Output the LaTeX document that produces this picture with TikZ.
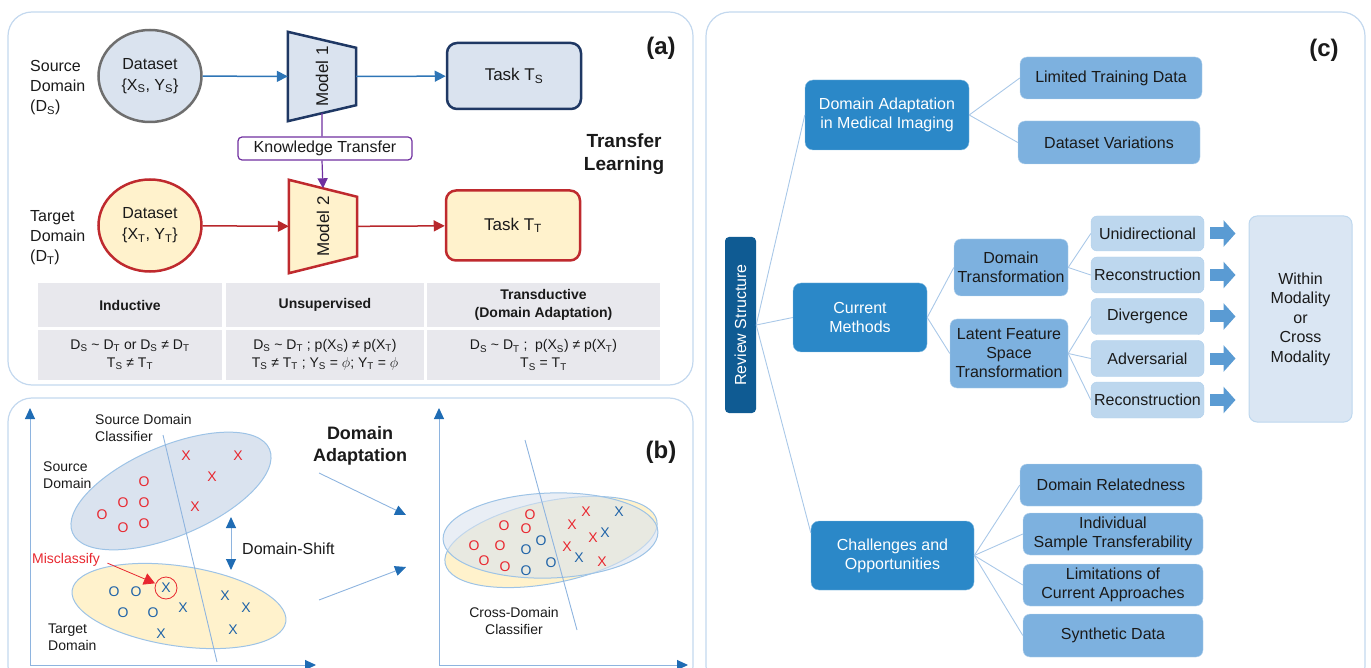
\documentclass[tikz,border=0pt]{standalone}
\usepackage{fontspec}
\setmainfont{Liberation Sans}
\usepackage{graphicx}
\usepackage{tikz}
\usetikzlibrary{shapes, arrows.meta, positioning, calc, backgrounds}

\definecolor{panelc}{HTML}{C3D8EE}
\definecolor{srcfill}{HTML}{DAE3EF}
\definecolor{tgtfill}{HTML}{FFF2CC}
\definecolor{navy}{HTML}{1F3864}
\definecolor{darkred}{HTML}{BF2A2E}
\definecolor{greyline}{HTML}{6E6E6E}
\definecolor{arrblue}{HTML}{2E75B6}
\definecolor{arrred}{HTML}{B8282C}
\definecolor{ktpurple}{HTML}{7030A0}
\definecolor{cellgray}{HTML}{E8E8ED}
\definecolor{txtc}{HTML}{1A1A1A}
\definecolor{ptred}{HTML}{E8272F}
\definecolor{ptblue}{HTML}{1F63A8}
\definecolor{axline}{HTML}{8EB4DF}
\definecolor{axtip}{HTML}{1F6CB4}
\definecolor{ellline}{HTML}{9DC3E6}
\definecolor{rsc}{HTML}{0F5B93}
\definecolor{lvonec}{HTML}{2B88C8}
\definecolor{lvtwoc}{HTML}{7DB1DF}
\definecolor{lvthreec}{HTML}{BDD7EE}
\definecolor{withinc}{HTML}{DAE6F3}
\definecolor{blkc}{HTML}{5A9BD3}
\definecolor{treec}{HTML}{A9C8E8}

\newcommand{\sbs}[2]{#1\textsubscript{#2}}

\begin{document}
\begin{tikzpicture}[x=1pt, y=-1pt,
  panel/.style={draw=panelc, line width=1.2pt, rounded corners=24pt},
  lab/.style={inner sep=0pt, align=left, text=txtc, font=\fontsize{16}{20}\selectfont},
  smlab/.style={inner sep=0pt, align=left, text=txtc, font=\fontsize{14}{17}\selectfont},
  boldlab/.style={inner sep=0pt, align=center, text=txtc, font=\bfseries\fontsize{19}{23}\selectfont},
  tag/.style={inner sep=0pt, text=txtc, font=\bfseries\fontsize{24}{28}\selectfont},
  dataset/.style={ellipse, minimum width=103pt, minimum height=92pt, inner sep=0pt,
                  line width=2.5pt, align=center, text=txtc, font=\fontsize{16}{21}\selectfont},
  model/.style={rectangle, minimum width=68pt, inner sep=0pt, text=txtc,
                font=\fontsize{17}{17}\selectfont},
  trap/.style={line width=2.5pt, line join=miter},
  task/.style={rectangle, rounded corners=10pt, minimum width=134pt, line width=2.5pt,
               text=txtc, font=\fontsize{17}{17}\selectfont},
  cell/.style={fill=cellgray, inner sep=0pt, align=center, text=txtc,
               font=\fontsize{14}{18}\selectfont},
  barrow/.style={draw=arrblue, line width=1.5pt, -{Triangle[length=11pt,width=11pt]}},
  rarrow/.style={draw=arrred, line width=1.5pt, -{Triangle[length=11pt,width=11pt]}},
  mk/.style={inner sep=0pt, font=\fontsize{14}{14}\selectfont},
  axis/.style={draw=axline, line width=1pt,
               {Triangle[length=11pt,width=10pt,color=axtip]}-{Triangle[length=11pt,width=10pt,color=axtip]}},
  thin/.style={draw=axline, line width=0.9pt},
  lvone/.style={rectangle, rounded corners=8pt, fill=lvonec, draw=lvonec!55!white,
                text=white, align=center, inner sep=2pt, font=\fontsize{16}{19}\selectfont},
  lvtwo/.style={rectangle, rounded corners=7pt, fill=lvtwoc, draw=lvtwoc!55!white,
                text=txtc, align=center, inner sep=2pt, font=\fontsize{16}{19}\selectfont},
  lvthree/.style={rectangle, rounded corners=6pt, fill=lvthreec, draw=lvtwoc!60!white,
                text=txtc, align=center, inner sep=2pt, font=\fontsize{16}{19}\selectfont},
  tree/.style={draw=treec, line width=0.9pt},
  blkarr/.style={draw=blkc, line width=12pt, -{Triangle[length=12pt,width=26pt]},
                 shorten <=6pt, shorten >=13pt}
]
\useasboundingbox (0,0) rectangle (1371,668);
\clip (0,0) rectangle (1371,668);

% ---------- (a) transfer learning
\draw[panel] (8,12) rectangle (693,385);

\node[lab, anchor=west] (srclab) at (30,88) {Source\\Domain\\(\sbs{D}{S})};
\node[lab, anchor=west] (tgtlab) at (30,238) {Target\\Domain\\(\sbs{D}{T})};

\node[dataset, fill=srcfill, draw=greyline] (srcdata) at (150,76) {Dataset\\\{\sbs{X}{S}, \sbs{Y}{S}\}};
\node[model, minimum height=89pt] (model1) at (322,76.5) {\rotatebox{90}{Model 1}};
\node[task, fill=srcfill, draw=navy, minimum height=66pt] (taskS) at (514,76) {Task \sbs{T}{S}};

\node[draw=ktpurple, line width=1.2pt, rounded corners=4pt, minimum width=174pt,
      minimum height=23pt, inner sep=0pt, text=txtc, font=\fontsize{16}{16}\selectfont]
      (ktrans) at (325,148.5) {Knowledge Transfer};

\node[dataset, fill=tgtfill, draw=darkred] (tgtdata) at (150,225.5) {Dataset\\\{\sbs{X}{T}, \sbs{Y}{T}\}};
\node[model, minimum height=93pt] (model2) at (323,226.5) {\rotatebox{90}{Model 2}};
\node[task, fill=tgtfill, draw=darkred, minimum height=70pt] (taskT) at (513,225.5) {Task \sbs{T}{T}};

\begin{scope}[on background layer]
\draw[trap, fill=srcfill, draw=navy] (model1.north west) -- ([yshift=-16pt]model1.north east)
  -- ([yshift=16pt]model1.south east) -- (model1.south west) -- cycle;
\draw[trap, fill=tgtfill, draw=darkred] (model2.north west) -- ([yshift=-17pt]model2.north east)
  -- ([yshift=17pt]model2.south east) -- (model2.south west) -- cycle;
\end{scope}

\node[tag] (taga) at (661,48) {(a)};
\node[boldlab] (tllab) at (624,154.5) {Transfer\\Learning};

\draw[barrow] (srcdata) -- (model1);
\draw[barrow] (model1) -- (taskS);
\draw[rarrow] (tgtdata) -- (model2);
\draw[rarrow] (model2) -- (taskT);
\draw[draw=ktpurple, line width=1.2pt]
  ($(model1.south west)!0.5!([yshift=16pt]model1.south east)$) -- (model1 |- ktrans.north);
\draw[draw=ktpurple, line width=1.2pt, -{Triangle[length=10pt,width=10pt]}]
  (model1 |- ktrans.south) -- ($(model2.north west)!0.5!([yshift=-17pt]model2.north east)$);

% table
\node[cell, minimum width=184pt, minimum height=44pt, font=\bfseries\fontsize{14}{18}\selectfont] (hind) at (130,305) {Inductive};
\node[cell, minimum width=198pt, minimum height=44pt, font=\bfseries\fontsize{14}{18}\selectfont] (huns) at (325,305) {Unsupervised};
\node[cell, minimum width=233pt, minimum height=44pt, font=\bfseries\fontsize{14}{18}\selectfont] (htra) at (543.5,305) {Transductive\\(Domain Adaptation)};
\node[cell, minimum width=184pt, minimum height=50pt] (rind) at (130,355)
  {\sbs{D}{S} \textasciitilde{} \sbs{D}{T} or \sbs{D}{S} ≠ \sbs{D}{T}\\\sbs{T}{S} ≠ \sbs{T}{T}};
\node[cell, minimum width=198pt, minimum height=50pt] (runs) at (325,355)
  {\sbs{D}{S} \textasciitilde{}\ \sbs{D}{T} ; p(\sbs{X}{S}) ≠ p(\sbs{X}{T})\\\sbs{T}{S} ≠ \sbs{T}{T} ; \sbs{Y}{S} = $\phi$; \sbs{Y}{T} = $\phi$};
\node[cell, minimum width=233pt, minimum height=50pt] (rtra) at (543.5,355)
  {\sbs{D}{S} \textasciitilde{} \sbs{D}{T} ;\ \ p(\sbs{X}{S}) ≠ p(\sbs{X}{T})\\\sbs{T}{S} = \sbs{T}{T}};

% ---------- (b) domain adaptation
\draw[panel] (8,398) rectangle (693,690);

\coordinate (ax1o) at (30,665);
\coordinate (ax1t) at (30,408);
\coordinate (ax1r) at (316,665);
\coordinate (ax2o) at (439,665);
\coordinate (ax2t) at (439,408);
\coordinate (ax2r) at (688,665);
\draw[axis] (ax1t) -- (ax1o) -- (ax1r);
\draw[axis] (ax2t) -- (ax2o) -- (ax2r);

\draw[fill=srcfill, draw=ellline, line width=1pt, rotate around={23:(171,491)}]
  (171,491) ellipse [x radius=107pt, y radius=45pt];
\draw[fill=tgtfill, draw=ellline, line width=1pt, rotate around={-8.4:(179,606)}]
  (179,606) ellipse [x radius=108pt, y radius=40pt];

\coordinate (cls1a) at (163,435);
\coordinate (cls1b) at (217,662);
\draw[thin] (cls1a) -- (cls1b);

\foreach \p [count=\i] in {(186,456),(238,456),(212,477),(195,507)}
  \node[mk, text=ptred] (sx\i) at \p {X};
\foreach \p [count=\i] in {(144,482),(123,503),(144,503),(102,515),(123,528),(144,524)}
  \node[mk, text=ptred] (so\i) at \p {O};
\foreach \p [count=\i] in {(114,592),(136,592),(123,613),(153,613)}
  \node[mk, text=ptblue] (to\i) at \p {O};
\foreach \p [count=\i] in {(183,608),(225,596),(246,608),(161,634),(233,630)}
  \node[mk, text=ptblue] (tx\i) at \p {X};
\node[mk, text=ptblue] (txm) at (166,588) {X};
\node[circle, draw=ptred, line width=0.8pt, minimum size=22pt, inner sep=0pt] (miscirc) at (166,588) {};

\node[smlab, anchor=west] (clslab) at (95,427.5) {Source Domain\\Classifier};
\node[smlab, anchor=west] (srcdlab) at (43,475.5) {Source\\Domain};
\node[smlab, anchor=west, text=ptred] (miscl) at (32,560) {Misclassify};
\node[smlab, anchor=west] (tgtdlab) at (48,637) {Target\\Domain};
\draw[draw=ptred, line width=0.8pt, -{Triangle[length=11pt,width=12pt]}, shorten <=8pt, shorten >=12pt]
  (miscl.east) -- (miscirc.center);

\coordinate (shtop) at (231,517);
\coordinate (shbot) at (231,570);
\draw[axis] (shtop) -- (shbot);
\node[lab, anchor=west] (shlab) at (242,549) {Domain-Shift};

\node[boldlab, font=\bfseries\fontsize{18}{22}\selectfont] (dalab) at (360,446) {Domain\\Adaptation};
\node[tag] (tagb) at (661,452) {(b)};

\coordinate (da1s) at (319,473);
\coordinate (da1e) at (406,515);
\coordinate (da2s) at (319,600);
\coordinate (da2e) at (406,567);
\draw[thin, -{Triangle[length=11pt,width=10pt,color=axtip]}] (da1s) -- (da1e);
\draw[thin, -{Triangle[length=11pt,width=10pt,color=axtip]}] (da2s) -- (da2e);

\draw[fill=tgtfill, draw=ellline, line width=1pt, rotate around={11.5:(551,542)}]
  (551,542) ellipse [x radius=108pt, y radius=41pt];
\draw[fill=srcfill, fill opacity=0.6, draw=ellline, line width=1pt, rotate around={2:(550.5,535.5)}]
  (550.5,535.5) ellipse [x radius=107.5pt, y radius=42.5pt];

\coordinate (cls2a) at (525,440);
\coordinate (cls2b) at (577,630);
\draw[thin] (cls2a) -- (cls2b);

\foreach \p [count=\i] in {(530,515),(504,526),(526,529),(474,546),(500,546),(484,561),(505,567)}
  \node[mk, text=ptred] (co\i) at \p {O};
\foreach \p [count=\i] in {(541,541),(526,550),(551,563),(526,571)}
  \node[mk, text=ptblue] (cb\i) at \p {O};
\foreach \p [count=\i] in {(586,512),(572,525),(593,538),(567,547),(602,562)}
  \node[mk, text=ptred] (cx\i) at \p {X};
\foreach \p [count=\i] in {(619,512),(605,533),(579,558)}
  \node[mk, text=ptblue] (cy\i) at \p {X};

\node[smlab, align=center] (cdlab) at (514,620.5) {Cross-Domain\\Classifier};

% ---------- (c) review structure
\draw[panel] (706,12) rectangle (1365,690);
\node[tag] (tagc) at (1324,50) {(c)};

\node[rectangle, rounded corners=4pt, fill=rsc, minimum width=31pt, minimum height=176pt,
      inner sep=0pt, text=white, font=\fontsize{16}{19}\selectfont]
      (rs) at (740.5,325) {\rotatebox{90}{Review Structure}};

\node[lvone, minimum width=164pt, minimum height=70pt] (da) at (887,115) {Domain Adaptation\\in Medical Imaging};
\node[lvone, minimum width=134pt, minimum height=69pt] (cm) at (860,317.5) {Current\\Methods};
\node[lvone, minimum width=163pt, minimum height=69pt] (co) at (892.5,555.5) {Challenges and\\Opportunities};

\node[lvtwo, minimum width=182pt, minimum height=42pt] (ltd) at (1111,78) {Limited Training Data};
\node[lvtwo, minimum width=182pt, minimum height=43pt] (dv) at (1109,142.5) {Dataset Variations};
\node[lvtwo, minimum width=114pt, minimum height=57pt] (dt) at (1011,267.5) {Domain\\Transformation};
\node[lvtwo, minimum width=118pt, minimum height=69pt] (lf) at (1009,353.5) {Latent Feature\\Space\\Transformation};
\node[lvtwo, minimum width=182pt, minimum height=42pt] (dr) at (1111,485) {Domain Relatedness};
\node[lvtwo, minimum width=180pt, minimum height=42pt] (ist) at (1113,534) {Individual\\Sample Transferability};
\node[lvtwo, minimum width=180pt, minimum height=42pt] (lca) at (1113,585) {Limitations of\\Current Approaches};
\node[lvtwo, minimum width=180pt, minimum height=43pt] (sd) at (1113,635.5) {Synthetic Data};

\node[lvthree, minimum width=113pt, minimum height=35pt] (uni) at (1147.5,233.5) {Unidirectional};
\node[lvthree, minimum width=113pt, minimum height=36pt] (reca) at (1147.5,275) {Reconstruction};
\node[lvthree, minimum width=113pt, minimum height=36pt] (div) at (1147.5,316.5) {Divergence};
\node[lvthree, minimum width=113pt, minimum height=36pt] (adv) at (1147.5,358.5) {Adversarial};
\node[lvthree, minimum width=113pt, minimum height=36pt] (recb) at (1147.5,400) {Reconstruction};

\node[rectangle, rounded corners=8pt, fill=withinc, draw=lvthreec, line width=1pt,
      minimum width=103pt, minimum height=206pt, align=center, text=txtc,
      font=\fontsize{16}{19.5}\selectfont]
      (within) at (1300.5,319) {Within\\Modality\\or\\Cross\\Modality};

\draw[tree] (rs.east) -- (da.west);
\draw[tree] (rs.east) -- (cm.west);
\draw[tree] (rs.east) -- ([yshift=-12pt]co.north west);
\draw[tree] (da.east) -- (ltd.west);
\draw[tree] (da.east) -- (dv.west);
\draw[tree] (cm.east) -- (dt.west);
\draw[tree] (cm.east) -- (lf.west);
\draw[tree] (dt.east) -- (uni.west);
\draw[tree] (dt.east) -- (reca.west);
\draw[tree] (lf.east) -- (div.west);
\draw[tree] (lf.east) -- (adv.west);
\draw[tree] (lf.east) -- (recb.west);
\foreach \t in {dr, ist, lca, sd}
  \draw[tree] (co.east) -- (\t.west);

\foreach \b in {uni, reca, div, adv, recb}
  \draw[blkarr] (\b.east) -- (\b.east -| within.west);

\end{tikzpicture}
\end{document}
